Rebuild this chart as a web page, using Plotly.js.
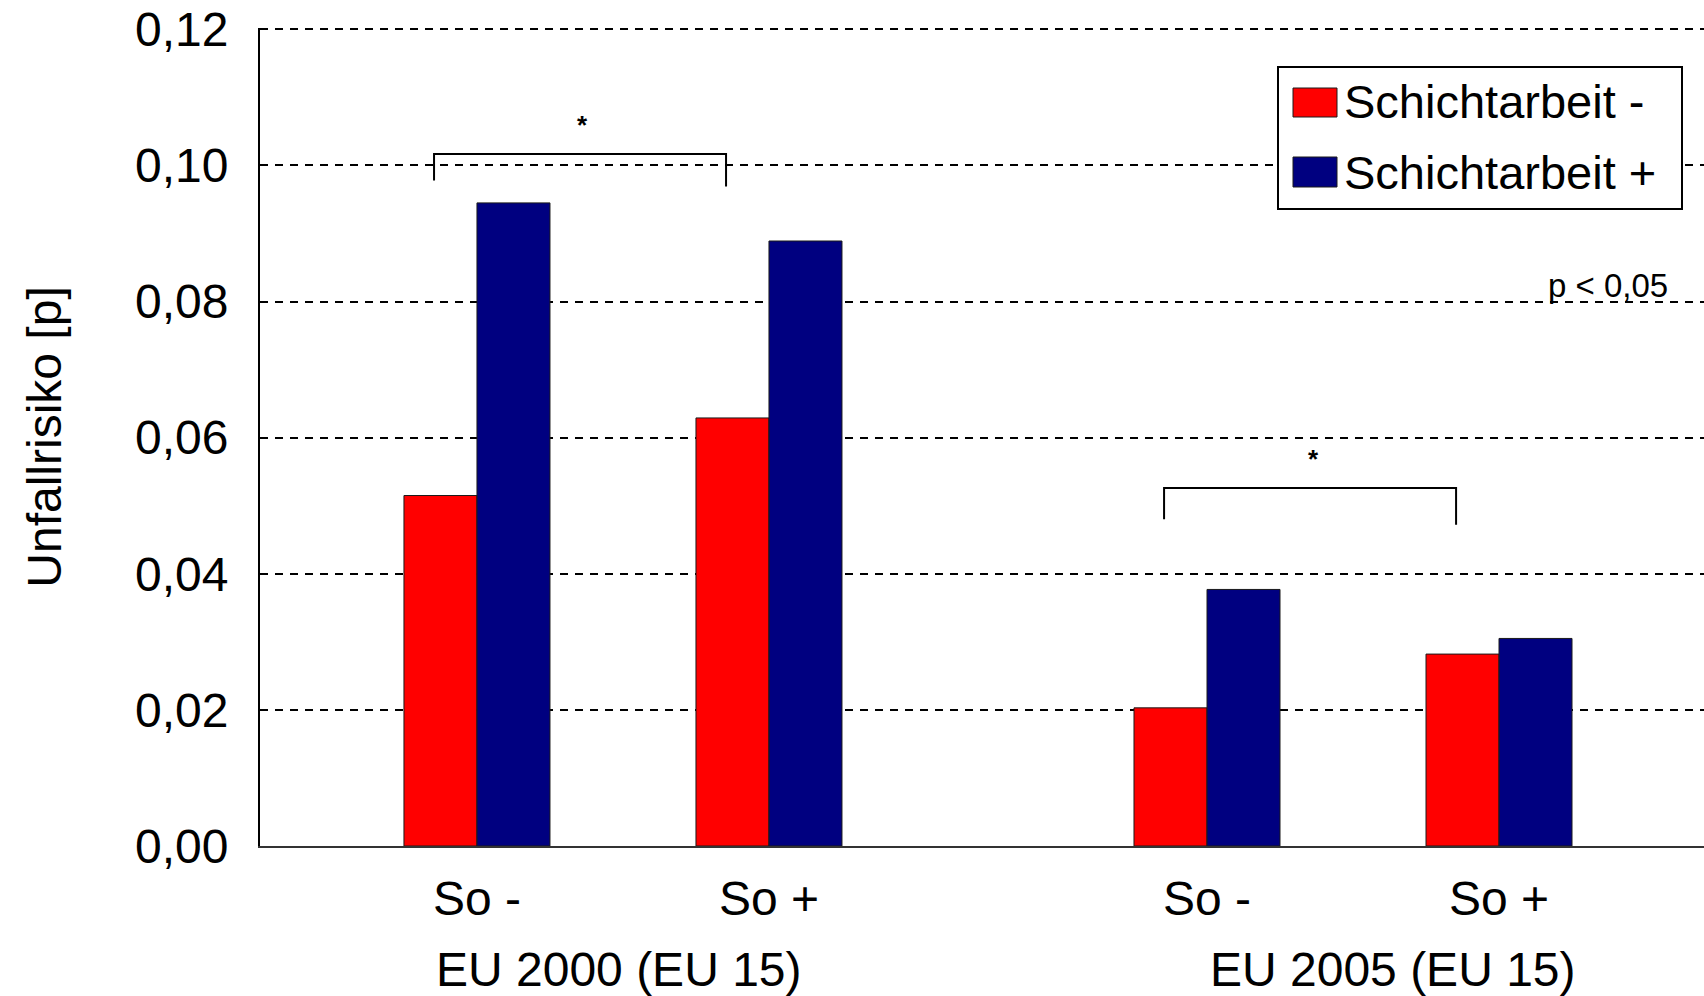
<!DOCTYPE html>
<html><head><meta charset="utf-8">
<script src="https://cdn.plot.ly/plotly-3.0.1.min.js"></script>
<style>html,body{margin:0;padding:0;background:#fff;} #chart{width:1704px;height:996px;}</style>
</head><body><div id="chart"></div>
<script>
// ---- data ----
const categories = ["So -", "So +", "So -", "So +"];
const groupOfCategory = [0, 0, 1, 1];
const groups = ["EU 2000 (EU 15)", "EU 2005 (EU 15)"];
const seriesNames = ["Schichtarbeit -", "Schichtarbeit +"];
const valuesShiftMinus = [0.0515, 0.0629, 0.0203, 0.0282];
const valuesShiftPlus = [0.0945, 0.0889, 0.0377, 0.0305];
const sigPairs = [[0, 1], [2, 3]];
const sigTop = [0.1017, 0.0526];
const sigFootLeft = [0.0978, 0.0480];
const sigFootRight = [0.0969, 0.0472];
const sigLabel = "*";
const noteText = "p < 0,05";
const yTitle = "Unfallrisiko [p]";

// ---- layout helpers ----
const W = 1704, H = 996, ML = 260, MR = 0, MT = 28, MB = 150;
const PW = W - ML - MR, PH = H - MT - MB;
const px = x => (x - ML) / PW;
const py = y => (H - MB - y) / PH;
const FONT = "Liberation Sans, Arial, sans-serif";
const colors = ["#ff0000", "#000080"];

const pos = categories.map((c, i) => i + groupOfCategory[i] * 0.5);
const BARGAP = 0.5;
const barW = (1 - BARGAP) / 2;
const redCenter = pos.map(p => p - barW / 2);
const bracketDx = -0.022;

const traces = [valuesShiftMinus, valuesShiftPlus].map((vals, k) => ({
  type: "bar", x: pos, y: vals, name: seriesNames[k],
  marker: {color: colors[k], line: {color: "#1a1a1a", width: 1}},
  showlegend: false, hoverinfo: "skip"
}));

const shapes = [];
const annotations = [];

// significance brackets
sigPairs.forEach((pair, i) => {
  const x0 = redCenter[pair[0]] + bracketDx, x1 = redCenter[pair[1]] + bracketDx;
  shapes.push({type: "path", xref: "x", yref: "y",
    path: `M ${x0},${sigFootLeft[i]} L ${x0},${sigTop[i]} L ${x1},${sigTop[i]} L ${x1},${sigFootRight[i]}`,
    line: {color: "#000", width: 2}});
  annotations.push({xref: "x", yref: "y", x: (x0 + x1) / 2 + 0.01, y: sigTop[i], yshift: 29,
    text: "<b>" + sigLabel + "</b>", showarrow: false, font: {family: FONT, size: 26, color: "#000"},
    xanchor: "center", yanchor: "middle"});
});

// group labels
const groupShift = [-4, 40];
groups.forEach((g, gi) => {
  const ps = pos.filter((p, i) => groupOfCategory[i] === gi);
  const cx = (Math.min(...ps) + Math.max(...ps)) / 2;
  annotations.push({xref: "x", yref: "paper", x: cx, xshift: groupShift[gi], y: py(970), text: g,
    showarrow: false, font: {family: FONT, size: 48, color: "#000"}, xanchor: "center", yanchor: "middle"});
});

// note
annotations.push({xref: "paper", yref: "paper", x: px(1608), y: py(285), text: noteText, showarrow: false,
  font: {family: FONT, size: 33, color: "#000"}, xanchor: "center", yanchor: "middle"});

// custom legend
shapes.push({type: "rect", xref: "paper", yref: "paper", x0: px(1278), x1: px(1682), y0: py(209), y1: py(67),
  line: {color: "#000", width: 2}, fillcolor: "#fff"});
const legendRows = [{sy0: 88, sy1: 117, ty: 101}, {sy0: 157, sy1: 187, ty: 172}];
seriesNames.forEach((n, k) => {
  const r = legendRows[k];
  shapes.push({type: "rect", xref: "paper", yref: "paper", x0: px(1293), x1: px(1337), y0: py(r.sy1), y1: py(r.sy0),
    line: {color: "#1a1a1a", width: 1}, fillcolor: colors[k]});
  annotations.push({xref: "paper", yref: "paper", x: px(1342), y: py(r.ty), text: n, showarrow: false,
    font: {family: FONT, size: 47, color: "#000"}, xanchor: "left", yanchor: "middle"});
});

const layout = {
  width: W, height: H,
  margin: {l: ML, r: MR, t: MT, b: MB, pad: 0},
  paper_bgcolor: "#fff", plot_bgcolor: "#fff",
  separators: ", ",
  font: {family: FONT, size: 48, color: "#000"},
  barmode: "group", bargap: BARGAP, bargroupgap: 0,
  showlegend: false,
  xaxis: {
    range: [-0.743, 4.202], tickmode: "array", tickvals: pos, ticktext: categories,
    ticks: "", showgrid: false, zeroline: false, showline: true, linecolor: "#333", linewidth: 2,
    tickfont: {family: FONT, size: 48, color: "#000"}, ticklabelstandoff: 9, fixedrange: true
  },
  yaxis: {
    range: [0, 0.1202], dtick: 0.02, tick0: 0, tickformat: ".2f",
    ticks: "", showgrid: true, gridcolor: "#000", gridwidth: 2, griddash: "8px,7px",
    zeroline: false, showline: true, linecolor: "#000", linewidth: 2,
    tickfont: {family: FONT, size: 48, color: "#000"}, ticklabelstandoff: 20,
    title: {text: yTitle, font: {family: FONT, size: 48, color: "#000"}, standoff: 58},
    fixedrange: true
  },
  shapes: shapes,
  annotations: annotations
};

Plotly.newPlot("chart", traces, layout, {staticPlot: true, displayModeBar: false});
</script>
</body></html>
